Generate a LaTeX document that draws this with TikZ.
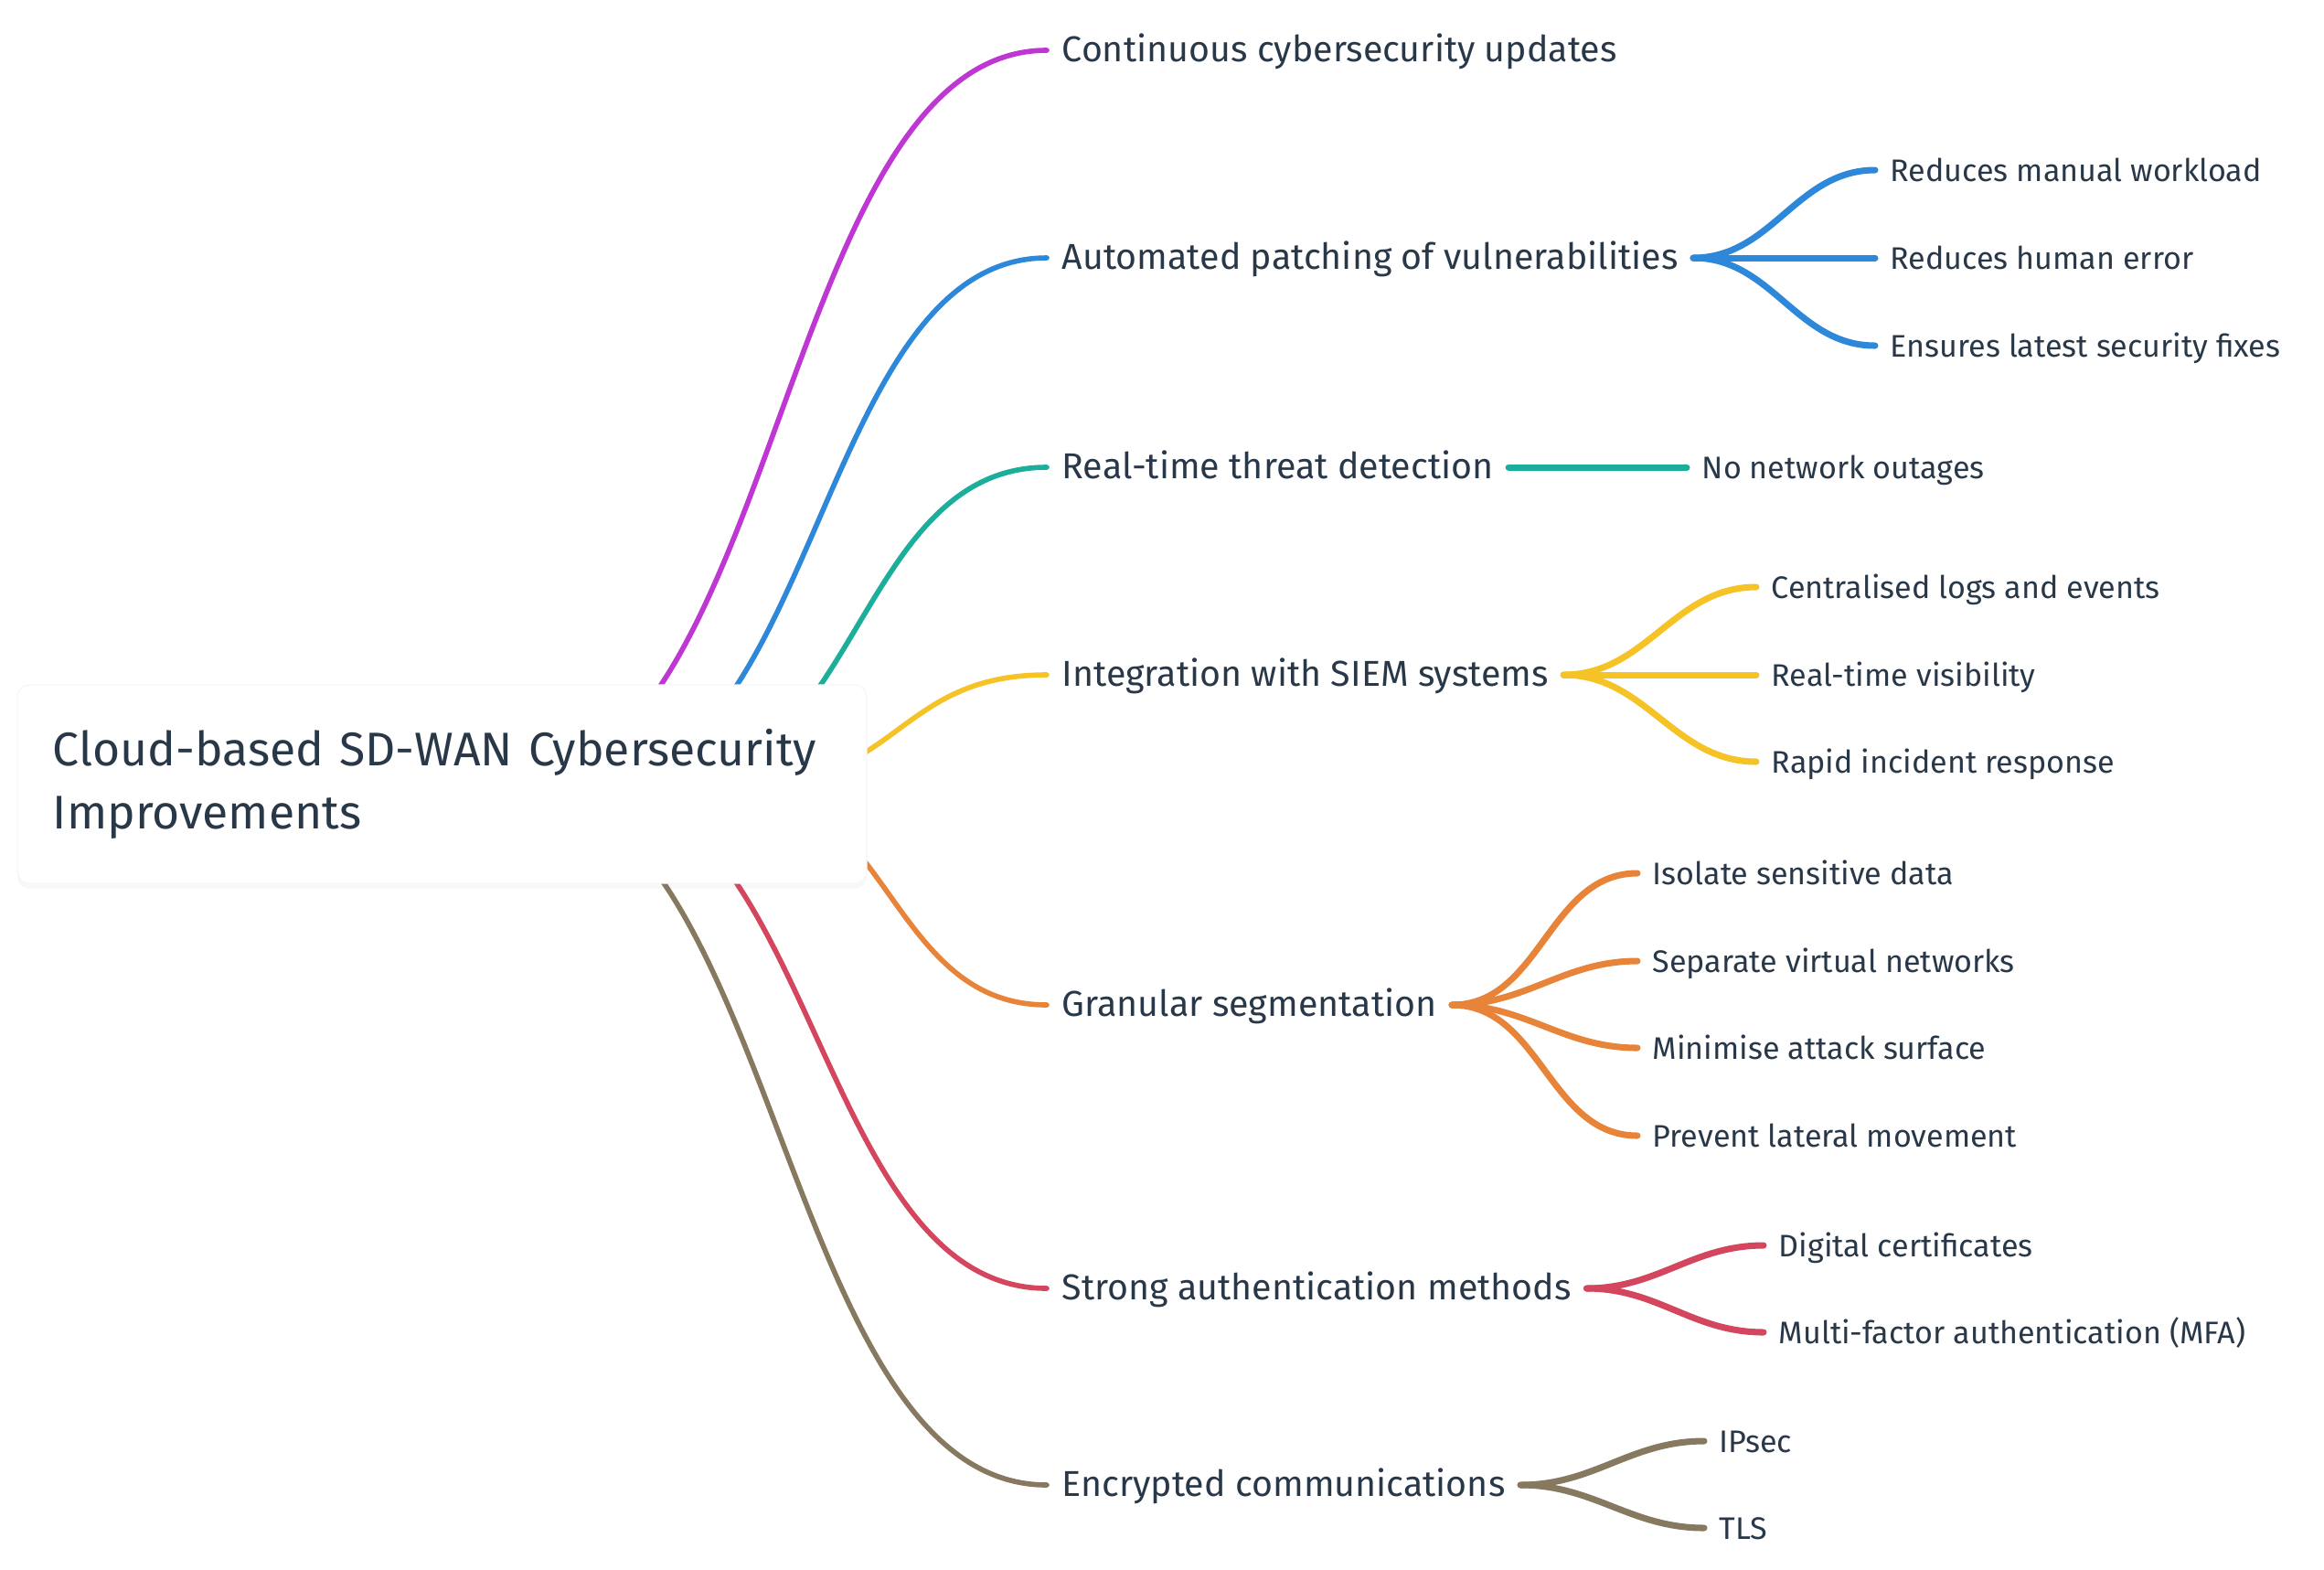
\documentclass[tikz,border=0pt]{standalone}
\usepackage{fontspec}
\setmainfont{Fira Sans}
\usetikzlibrary{backgrounds,shadows}

\definecolor{inkText}{RGB}{41,56,72}
\definecolor{cMagenta}{RGB}{190,55,210}
\definecolor{cBlue}{RGB}{46,136,217}
\definecolor{cTeal}{RGB}{27,175,155}
\definecolor{cYellow}{RGB}{245,195,37}
\definecolor{cOrange}{RGB}{232,132,58}
\definecolor{cRed}{RGB}{212,70,94}
\definecolor{cBrown}{RGB}{135,121,96}

\begin{document}
\begin{tikzpicture}[
  y=-1cm,
  root/.style={rectangle, rounded corners=0.13cm, fill=white, draw=black!3,
    text width=8.51cm, align=left, inner xsep=0.39cm, minimum height=2.17cm,
    font=\fontsize{14.7}{19.8}\selectfont, text=inkText,
    drop shadow={opacity=0.06, shadow xshift=0pt, shadow yshift=-0.06cm}},
  topic/.style={anchor=west, inner xsep=0.16cm, inner ysep=0pt, text height=0.69em,
    text depth=0pt, font=\fontsize{11.2}{14}\selectfont, text=inkText},
  leaf/.style={topic, font=\fontsize{9.7}{12}\selectfont},
  branch/.style={line width=1.6pt, line cap=round},
  twig/.style={line width=2pt, line cap=round, out=0, in=180}
]
  \useasboundingbox (0,0) rectangle (25.42,17.16);

  % Central idea
  \node[root] (root) at (4.835,8.575) {Cloud-based SD-WAN Cybersecurity\\Improvements};

  % Main topics
  \node[topic] (n1) at (11.45,0.55) {Continuous cybersecurity updates};
  \node[topic] (n2) at (11.45,2.82) {Automated patching of vulnerabilities};
  \node[topic] (n3) at (11.45,5.11) {Real-time threat detection};
  \node[topic] (n4) at (11.45,7.38) {Integration with SIEM systems};
  \node[topic] (n5) at (11.45,10.99) {Granular segmentation};
  \node[topic] (n6) at (11.45,14.09) {Strong authentication methods};
  \node[topic] (n7) at (11.45,16.24) {Encrypted communications};

  % Details
  \node[leaf] (n2a) at (20.51,1.86) {Reduces manual workload};
  \node[leaf] (n2b) at (20.51,2.82) {Reduces human error};
  \node[leaf] (n2c) at (20.51,3.78) {Ensures latest security fixes};
  \node[leaf] (n3a) at (18.45,5.11) {No network outages};
  \node[leaf] (n4a) at (19.21,6.42) {Centralised logs and events};
  \node[leaf] (n4b) at (19.21,7.38) {Real-time visibility};
  \node[leaf] (n4c) at (19.21,8.33) {Rapid incident response};
  \node[leaf] (n5a) at (17.91,9.55) {Isolate sensitive data};
  \node[leaf] (n5b) at (17.91,10.51) {Separate virtual networks};
  \node[leaf] (n5c) at (17.91,11.46) {Minimise attack surface};
  \node[leaf] (n5d) at (17.91,12.42) {Prevent lateral movement};
  \node[leaf] (n6a) at (19.29,13.62) {Digital certificates};
  \node[leaf] (n6b) at (19.29,14.57) {Multi-factor authentication (MFA)};
  \node[leaf] (n7a) at (18.64,15.76) {IPsec};
  \node[leaf] (n7b) at (18.64,16.71) {TLS};

  % Branches leave from inside the central box
  \coordinate (r1) at ([xshift=0.765cm]root.center);
  \coordinate (r2) at ([xshift=1.615cm]root.center);
  \coordinate (r3) at ([xshift=2.475cm]root.center);
  \coordinate (r4) at ([xshift=3.365cm]root.center);
  \coordinate (r5) at ([xshift=3.165cm]root.center);
  \coordinate (r6) at ([xshift=1.565cm]root.center);
  \coordinate (r7) at ([xshift=0.765cm]root.center);

  \begin{scope}[on background layer]
    \draw[branch, cMagenta] (r1) .. controls +(2.925,0) and +(-2.925,0) .. (n1.west);
    \draw[branch, cBlue] (r2) .. controls +(2.5,0) and +(-2.5,0) .. (n2.west);
    \draw[branch, cTeal] (r3) .. controls +(2.07,0) and +(-2.07,0) .. (n3.west);
    \draw[branch, cYellow] (r4) .. controls +(1.625,0) and +(-1.625,0) .. (n4.west);
    \draw[branch, cOrange] (r5) .. controls +(1.725,0) and +(-1.725,0) .. (n5.west);
    \draw[branch, cRed] (r6) .. controls +(2.525,0) and +(-2.525,0) .. (n6.west);
    \draw[branch, cBrown] (r7) .. controls +(2.925,0) and +(-2.925,0) .. (n7.west);
  \end{scope}

  \draw[twig, cBlue] (n2.east) to (n2a.west);
  \draw[twig, cBlue] (n2.east) to (n2b.west);
  \draw[twig, cBlue] (n2.east) to (n2c.west);
  \draw[twig, cTeal] (n3.east) to (n3a.west);
  \draw[twig, cYellow] (n4.east) to (n4a.west);
  \draw[twig, cYellow] (n4.east) to (n4b.west);
  \draw[twig, cYellow] (n4.east) to (n4c.west);
  \draw[twig, cOrange] (n5.east) to (n5a.west);
  \draw[twig, cOrange] (n5.east) to (n5b.west);
  \draw[twig, cOrange] (n5.east) to (n5c.west);
  \draw[twig, cOrange] (n5.east) to (n5d.west);
  \draw[twig, cRed] (n6.east) to (n6a.west);
  \draw[twig, cRed] (n6.east) to (n6b.west);
  \draw[twig, cBrown] (n7.east) to (n7a.west);
  \draw[twig, cBrown] (n7.east) to (n7b.west);
\end{tikzpicture}
\end{document}
